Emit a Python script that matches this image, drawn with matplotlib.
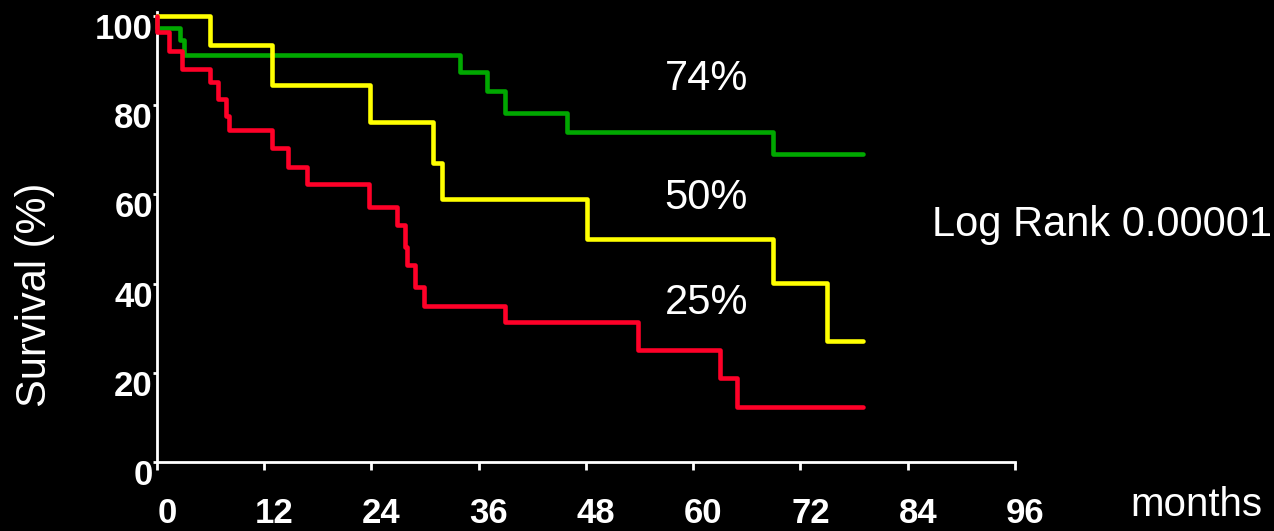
import matplotlib
matplotlib.use("Agg")
import matplotlib.pyplot as plt
import matplotlib.transforms as mtransforms

# Kaplan-Meier survival steps (months, survival %)
green_t = [0, 0, 2.6, 3.0, 33.9, 36.9, 38.9, 45.9, 68.9, 79.0]
green_s = [100, 97.3, 94.5, 91.3, 87.4, 83.2, 78.3, 74.0, 69.1, 69.1]

yellow_t = [0, 5.9, 12.9, 23.8, 30.9, 31.9, 48.1, 68.9, 75.0, 79.0]
yellow_s = [100, 93.5, 84.5, 76.2, 67.0, 59.0, 50.0, 40.1, 27.1, 27.1]

red_t = [0, 0, 1.3, 2.8, 5.9, 6.8, 7.7, 8.0, 12.9, 14.7, 16.8, 23.7, 26.8,
         27.7, 28.0, 28.9, 29.9, 38.9, 53.8, 63.0, 64.9, 79.0]
red_s = [100, 96.4, 92.2, 88.1, 85.2, 81.4, 77.6, 74.4, 70.4, 66.1, 62.3, 57.2,
         53.1, 48.2, 44.2, 39.2, 35.0, 31.4, 25.0, 18.8, 12.3, 12.3]

# Five-year survival labels
pct_labels = ["74%", "50%", "25%"]
pct_y = [85.9, 59.2, 35.7]

x_ticks = [0, 12, 24, 36, 48, 60, 72, 84, 96]
y_ticks = [0, 20, 40, 60, 80, 100]

plt.rcParams['font.family'] = ['Liberation Sans', 'DejaVu Sans']

W, H = 1274, 531
fig = plt.figure(figsize=(W / 100, H / 100), dpi=100, facecolor='black')
ax = fig.add_axes([157 / W, (H - 462) / H, (1015 - 157) / W, (462 - 11.5) / H])
ax.set_facecolor('black')

lw = 3.3
ax.step(green_t, green_s, where='post', color='#00A800', lw=lw,
        solid_capstyle='round', solid_joinstyle='round', clip_on=False, zorder=3)
ax.step(yellow_t, yellow_s, where='post', color='#FFFF00', lw=lw,
        solid_capstyle='round', solid_joinstyle='round', clip_on=False, zorder=4)
ax.step(red_t, red_s, where='post', color='#FF0028', lw=lw,
        solid_capstyle='round', solid_joinstyle='round', clip_on=False, zorder=5)

ax.set_xlim(0, 96)
ax.set_ylim(0, 101)
ax.set_xticks(x_ticks)
ax.set_yticks(y_ticks)
ax.set_xticklabels([str(v) for v in x_ticks])
ax.set_yticklabels([str(v) for v in y_ticks])

for side in ('top', 'right'):
    ax.spines[side].set_visible(False)
for side in ('left', 'bottom'):
    ax.spines[side].set_color('white')
    ax.spines[side].set_linewidth(2)

ax.tick_params(axis='x', colors='white', direction='out', length=6, width=2,
               pad=19, labelsize=25)
ax.tick_params(axis='y', colors='white', direction='out', length=3, width=2,
               pad=0, labelsize=25)

dx = mtransforms.ScaledTranslation(10 / 100, 0, fig.dpi_scale_trans)
dy = mtransforms.ScaledTranslation(0, -10 / 100, fig.dpi_scale_trans)
for lab in ax.get_xticklabels():
    lab.set_fontweight('bold')
    lab.set_transform(lab.get_transform() + dx)
for lab in ax.get_yticklabels():
    lab.set_fontweight('bold')
    lab.set_transform(lab.get_transform() + dy)

for txt, yv in zip(pct_labels, pct_y):
    ax.text(56.8, yv, txt, color='white', fontsize=30, ha='left', va='center')

fig.text(35 / W, 1 - 295 / H, 'Survival (%)', color='white', fontsize=30,
         rotation=90, ha='center', va='center')
fig.text(1196 / W, 1 - 505 / H, 'months', color='white', fontsize=29,
         ha='center', va='center')
fig.text(932 / W, 1 - 225 / H, 'Log Rank 0.00001', color='white', fontsize=30,
         ha='left', va='center')

fig.savefig('out.png', dpi=100, facecolor='black')
